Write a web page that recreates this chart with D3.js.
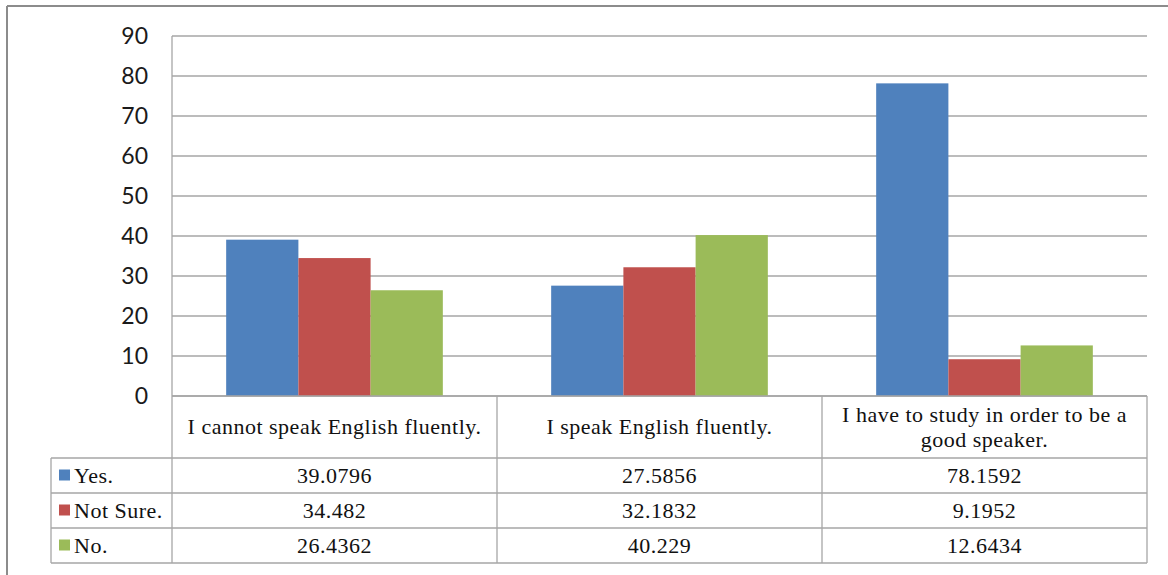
<!DOCTYPE html>
<html>
<head>
<meta charset="utf-8">
<script src="https://cdn.jsdelivr.net/npm/d3@7"></script>
<style>
  body { margin: 0; background: #fff; }
  svg { display: block; }
</style>
</head>
<body>
<script>
var categories = ["I cannot speak English fluently.", "I speak English fluently.", "I have to study in order to be a good speaker."];
var categoryLines = [["I cannot speak English fluently."], ["I speak English fluently."], ["I have to study in order to be a", "good speaker."]];
var seriesNames = ["Yes.", "Not Sure.", "No."];
var seriesColors = ["#4F81BD", "#C0504D", "#9BBB59"];
var yesValues = [39.0796, 27.5856, 78.1592];
var notSureValues = [34.482, 32.1832, 9.1952];
var noValues = [26.4362, 40.229, 12.6434];
var yTicks = [0, 10, 20, 30, 40, 50, 60, 70, 80, 90];

var series = [yesValues, notSureValues, noValues];

var width = 1168, height = 575;
var plotLeft = 172, plotRight = 1147, plotTop = 36, base = 396;
var legendLeft = 51;
var rowLines = [458, 493, 528, 563];
var gridColor = "#A6A6A6";

var svg = d3.select("body").append("svg")
    .attr("width", width)
    .attr("height", height)

// outer frame (top + left only visible)
svg.append("line").attr("x1", 7).attr("x2", width).attr("y1", 6).attr("y2", 6)
    .attr("stroke", "#8c8c8c").attr("stroke-width", 2)
svg.append("line").attr("x1", 7).attr("x2", 7).attr("y1", 6).attr("y2", height)
    .attr("stroke", "#8c8c8c").attr("stroke-width", 2)

var y = d3.scaleLinear().domain([0, 90]).range([base, plotTop])

var x0 = d3.scaleBand().domain(categories).range([plotLeft, plotRight])
var x1 = d3.scaleBand().domain(seriesNames).range([0, x0.bandwidth()])
    .paddingInner(0).paddingOuter(0.75)

/* gridlines */
svg.append("g").selectAll("line")
    .data(yTicks)
    .enter().append("line")
    .attr("x1", plotLeft).attr("x2", plotRight)
    .attr("y1", function (d) { return y(d) })
    .attr("y2", function (d) { return y(d) })
    .attr("stroke", gridColor).attr("stroke-width", 1.3)

/* y axis labels */
svg.append("g").selectAll("text")
    .data(yTicks)
    .enter().append("text")
    .attr("x", 148)
    .attr("y", function (d) { return y(d) + 8 })
    .attr("text-anchor", "end")
    .attr("font-family", "Lato, 'Open Sans', sans-serif")
    .attr("font-size", 23)
    .attr("fill", "#1a1a1a")
    .text(function (d) { return d })

/* bars */
var groups = svg.append("g").selectAll("g")
    .data(categories)
    .enter().append("g")
    .attr("transform", function (d) { return "translate(" + x0(d) + ",0)" })

groups.selectAll("rect")
    .data(function (d, i) { return seriesNames.map(function (s, j) { return { s: s, v: series[j][i], c: seriesColors[j] } }) })
    .enter().append("rect")
    .attr("x", function (d) { return x1(d.s) })
    .attr("width", x1.bandwidth())
    .attr("y", function (d) { return y(d.v) })
    .attr("height", function (d) { return base - y(d.v) })
    .attr("fill", function (d) { return d.c })

/* data table lines */
var tbl = svg.append("g").attr("stroke", gridColor).attr("stroke-width", 1.3)
tbl.append("line").attr("x1", plotLeft).attr("x2", plotLeft).attr("y1", plotTop).attr("y2", rowLines[3])
tbl.append("line").attr("x1", legendLeft).attr("x2", legendLeft).attr("y1", rowLines[0]).attr("y2", rowLines[3])
categories.forEach(function (c) {
    tbl.append("line").attr("x1", x0(c) + x0.bandwidth()).attr("x2", x0(c) + x0.bandwidth())
        .attr("y1", base).attr("y2", rowLines[3])
})
tbl.append("line").attr("x1", plotLeft).attr("x2", plotRight).attr("y1", base).attr("y2", base)
rowLines.forEach(function (r) {
    tbl.append("line").attr("x1", legendLeft).attr("x2", plotRight).attr("y1", r).attr("y2", r)
})

var serif = "'Liberation Serif', 'Times New Roman', serif";
var fs = 22, ls = 0.5;

/* header text */
categories.forEach(function (c, i) {
    var lines = categoryLines[i];
    var cy = (base + rowLines[0]) / 2;
    var lh = 25;
    var t = svg.append("text")
        .attr("text-anchor", "middle")
        .attr("font-family", serif)
        .attr("font-size", fs)
        .attr("letter-spacing", ls)
        .attr("fill", "#111")
    lines.forEach(function (l, k) {
        t.append("tspan")
            .attr("x", x0(c) + x0.bandwidth() / 2)
            .attr("y", cy + 7 + (k - (lines.length - 1) / 2) * lh)
            .text(l)
    })
})

/* table rows */
seriesNames.forEach(function (s, j) {
    var cy = (rowLines[j] + rowLines[j + 1]) / 2;
    svg.append("rect")
        .attr("x", 59).attr("y", cy - 6)
        .attr("width", 11).attr("height", 11)
        .attr("fill", seriesColors[j])
    svg.append("text")
        .attr("x", 74).attr("y", cy + 7)
        .attr("font-family", serif).attr("font-size", fs).attr("letter-spacing", ls).attr("fill", "#111")
        .text(s)
    categories.forEach(function (c, i) {
        svg.append("text")
            .attr("x", x0(c) + x0.bandwidth() / 2)
            .attr("y", cy + 7)
            .attr("text-anchor", "middle")
            .attr("font-family", serif).attr("font-size", fs).attr("letter-spacing", ls).attr("fill", "#111")
            .text(series[j][i])
    })
})
</script>
</body>
</html>
